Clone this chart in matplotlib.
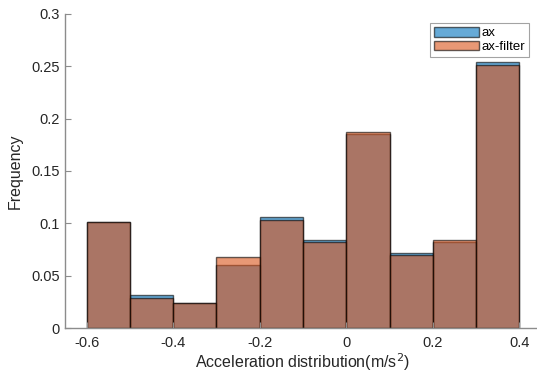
import matplotlib
matplotlib.use("Agg")
import matplotlib.pyplot as plt
import numpy as np

bin_edges = [-0.6, -0.5, -0.4, -0.3, -0.2, -0.1, 0.0, 0.1, 0.2, 0.3, 0.4]
ax_freq = [0.101, 0.0312, 0.0236, 0.0605, 0.1057, 0.0838, 0.1857, 0.0717, 0.0825, 0.2540]
axf_freq = [0.101, 0.0287, 0.0236, 0.0675, 0.1032, 0.0819, 0.1876, 0.0697, 0.0838, 0.2513]
series_names = ["ax", "ax-filter"]
xticks = [-0.6, -0.4, -0.2, 0, 0.2, 0.4]
xticklabels = ["-0.6", "-0.4", "-0.2", "0", "0.2", "0.4"]
yticks = [0, 0.05, 0.1, 0.15, 0.2, 0.25, 0.3]
yticklabels = ["0", "0.05", "0.1", "0.15", "0.2", "0.25", "0.3"]

plt.rcParams['font.family'] = ['Liberation Sans', 'DejaVu Sans']

fig = plt.figure(figsize=(5.37, 3.73), dpi=100)
ax = fig.add_axes([0.121, 0.1206, 0.8865, 0.842])

lefts = np.array(bin_edges[:-1])
widths = np.diff(bin_edges)
blue = (0.0, 0.447, 0.741)
orange = (0.85, 0.325, 0.098)
ax.bar(lefts, ax_freq, width=widths, align='edge', color=blue, alpha=0.6,
       edgecolor=(0, 0, 0, 0.8), linewidth=1.0, label=series_names[0])
ax.bar(lefts, axf_freq, width=widths, align='edge', color=orange, alpha=0.6,
       edgecolor=(0, 0, 0, 0.8), linewidth=1.0, label=series_names[1])

ax.set_xlim(-0.65, 0.45)
ax.set_ylim(0, 0.3)
ax.set_xticks(xticks)
ax.set_xticklabels(xticklabels)
ax.set_yticks(yticks)
ax.set_yticklabels(yticklabels)

for s in ['top', 'right']:
    ax.spines[s].set_visible(False)
for s in ['left', 'bottom']:
    ax.spines[s].set_color('#8c8c8c')
    ax.spines[s].set_linewidth(1.0)
ax.tick_params(direction='in', length=4, color='#8c8c8c', labelcolor='#262626',
               labelsize=10.5, width=0.8)
ax.tick_params(axis='x', pad=6)

ax.set_xlabel("Acceleration distribution(m/s$^2$)", fontsize=11.5, color='#262626', labelpad=1)
ax.set_ylabel("Frequency", fontsize=11.5, color='#262626', labelpad=6)

leg = ax.legend(loc='upper right', bbox_to_anchor=(529 / 537, 1 - 23 / 373),
                bbox_transform=fig.transFigure, fontsize=9.5,
                frameon=True, fancybox=False, edgecolor='#8c8c8c', handlelength=3.4,
                handleheight=0.75, handletextpad=0.2, borderpad=0.3, labelspacing=0.1,
                borderaxespad=0.0)
leg.get_frame().set_linewidth(0.8)

fig.savefig("out.png", dpi=100)
